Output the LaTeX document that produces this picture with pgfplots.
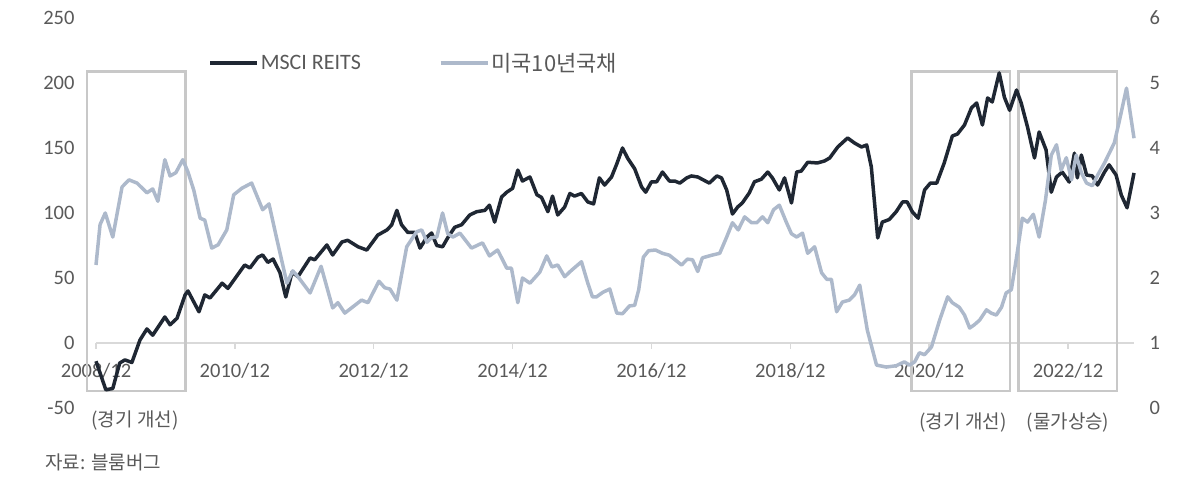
\documentclass[border=0pt]{standalone}
\usepackage{fontspec}
\setmainfont{Carlito}
\newfontfamily\kr{Noto Sans CJK KR}
\usepackage{pgfplots}
\pgfplotsset{compat=1.18}
\definecolor{reit}{HTML}{1F2733}
\definecolor{bond}{HTML}{ADB9CB}
\definecolor{boxc}{HTML}{C8C8C8}
\definecolor{axc}{HTML}{D9D9D9}
\definecolor{txt}{HTML}{595959}

\begin{document}
\begin{tikzpicture}[x=1bp,y=1bp]
\useasboundingbox (0,0) rectangle (1200,486);

% left axis: MSCI REITS
\begin{axis}[
  at={(96bp,78bp)}, anchor=south west, scale only axis,
  width=1038bp, height=390bp,
  xmin=0, xmax=179.4, ymin=-50, ymax=250,
  axis x line=bottom, axis y line=left,
  axis x line shift=-65bp,
  hide obscured x ticks=false,
  x axis line style={-, draw=axc, line width=1.5bp},
  y axis line style={draw=none},
  xtick={0,24,...,168},
  xticklabels={2008/12,2010/12,2012/12,2014/12,2016/12,2018/12,2020/12,2022/12},
  ytick={-50,0,...,250},
  tick align=outside, major tick length=6bp,
  xtick style={draw=axc, line width=1.5bp},
  ytick style={draw=none},
  tick label style={font=\fontsize{20.5bp}{24bp}\selectfont, text=txt},
  /pgf/number format/assume math mode=true,
  xticklabel style={anchor=north, yshift=-11bp},
  yticklabel style={anchor=east, xshift=-12bp},
  clip=false,
]
\draw[boxc, line width=2.5bp] (axis cs:-1.55,-37) rectangle (axis cs:15.5,209);
\draw[boxc, line width=2.5bp] (axis cs:140.9,-37) rectangle (axis cs:158.0,209);
\draw[boxc, line width=2.5bp] (axis cs:159.4,-37) rectangle (axis cs:176.5,209);

\addplot[reit, line width=3.5bp, line join=round] coordinates {
(0,-14) (1.7,-36) (2.9,-35) (4.1,-15.4) (5,-13) (6.2,-15) (7.6,2.3) (8.8,10.8) (9.8,6)
(11.9,20) (12.8,14) (14,19) (15.4,37) (15.9,40) (17.8,24) (18.8,37) (19.7,34.6)
(21.8,46) (22.8,42) (25.7,60) (26.6,57.7) (28,66) (28.8,67.7) (29.7,62) (30.6,64.6)
(31.8,54) (32.8,35.4) (33.9,54.6) (34.9,51) (37,65.4) (37.8,64) (39.9,75.4) (40.9,67.7)
(42.5,77.7) (43.5,79) (45.3,74) (46.8,71.5) (48.7,83) (50.3,87) (51.1,90.8) (52,102)
(52.8,91) (53.9,85) (55.1,85) (56,73) (57.2,81.5) (58,84.6) (58.9,75) (59.9,74)
(60.8,81) (62,89) (63.2,91) (64.6,98.5) (65.8,101) (67.2,102) (68,106) (68.9,93)
(70.1,112.3) (71,116) (72,119) (72.9,133) (73.7,124.6) (75,127.7) (76.2,114) (77,112)
(78.1,101) (78.9,113) (79.8,98.5) (81,104.6) (81.9,115) (82.7,113) (83.9,115) (85,108.5)
(86,107) (87,127) (87.9,121.5) (89.1,127.7) (90,137.7) (91,150) (91.9,142) (93.1,134)
(94.3,120) (95,116) (96,124) (96.9,124) (97.9,131.5) (99.1,124.6) (100,124.6) (100.9,123)
(102.1,127) (102.9,128.5) (104,127.7) (106,123) (107.3,128.5) (108.1,127) (109,117.7)
(110,99.2) (110.9,104.6) (111.7,107.7) (112.9,115.4) (113.8,124) (115,126) (116.1,131.5)
(116.9,127) (118.1,117.7) (119,127) (120.2,107.7) (121.1,131.5) (121.9,132.3) (123,139)
(124.7,138.5) (125.9,140) (126.8,142.3) (128.2,150.8) (129.9,157.7) (131.1,153.8)
(132.3,150.8) (133.2,152.3) (134,135.4) (135.1,80.8) (135.9,93) (137.1,95) (138.3,101)
(139.4,108.5) (140.2,108.5) (141.1,100.8) (142.1,96) (143.2,117.7) (144.2,123) (145.3,123)
(146.6,138.5) (148,159.2) (148.9,160.8) (150.1,167.7) (151.3,180.8) (152.2,184.6)
(153.2,167.7) (154.1,188.5) (154.9,185.4) (156.1,207.7) (157,189) (157.9,179) (159.1,194.6)
(159.9,184.6) (161,166) (162.2,142.3) (163,162.3) (164.2,148.5) (165.1,116) (166,127.7)
(167,131.5) (168.2,123.8) (169.1,146) (169.6,127) (170.3,144.6) (171.2,129.2) (172.2,128.5)
(173.1,121.5) (174.3,131.5) (175.1,137) (176.3,129.2) (177.2,113.8) (178.2,104) (179.4,130.8)
};
\end{axis}

% right axis: US 10y yield
\begin{axis}[
  at={(96bp,78bp)}, anchor=south west, scale only axis,
  width=1038bp, height=390bp,
  xmin=0, xmax=179.4, ymin=0, ymax=6,
  axis x line=none, axis y line*=right,
  y axis line style={draw=none},
  xtick=\empty, ytick={0,...,6},
  ytick style={draw=none},
  tick label style={font=\fontsize{20.5bp}{24bp}\selectfont, text=txt},
  /pgf/number format/assume math mode=true,
  yticklabel style={anchor=west, xshift=12bp},
  legend columns=2,
  legend style={draw=none, fill=none, at={(0.108,0.885)}, anchor=west,
    inner sep=0pt, font=\fontsize{22bp}{26bp}\selectfont, text=txt,
    /tikz/every even column/.append style={column sep=76bp}},
  legend image code/.code={\draw[#1] (0bp,0bp) -- (47bp,0bp);},
  clip=false,
]
\addlegendimage{reit, line width=3.5bp}
\addlegendentry{MSCI REITS}
\addplot[bond, line width=3.5bp, line join=round] coordinates {
(0,2.20) (0.7,2.82) (1.6,3.0) (2.9,2.63) (4.5,3.40) (5.7,3.51) (7.1,3.46) (8.8,3.31)
(9.8,3.37) (10.7,3.18) (11.9,3.82) (12.8,3.57) (13.8,3.62) (15,3.82) (15.9,3.63) (16.9,3.35)
(18,2.92) (18.8,2.89) (20,2.46) (21.1,2.51) (22.6,2.74) (23.8,3.28) (25.2,3.38) (26.9,3.46)
(28.8,3.05) (29.9,3.14) (31.3,2.58) (33,1.92) (34,2.11) (34.9,2.02) (37,1.77) (38.9,2.18)
(40.9,1.54) (41.8,1.62) (43,1.46) (45.9,1.66) (47,1.62) (48.9,1.95) (49.9,1.85) (50.8,1.83)
(52,1.66) (53.7,2.48) (55.4,2.71) (56.3,2.74) (57.2,2.55) (58,2.62) (58.9,2.63) (59.9,3.0)
(60.8,2.68) (61.7,2.63) (62.9,2.69) (64.9,2.46) (66.8,2.54) (68,2.34) (69.4,2.43) (70.1,2.31)
(71,2.15) (71.8,2.15) (72.9,1.62) (73.7,2.0) (75,1.92) (76.7,2.09) (77.9,2.34) (78.8,2.17)
(79.8,2.20) (81,2.02) (82.2,2.12) (83.9,2.25) (85,1.92) (85.8,1.71) (86.5,1.71) (87.6,1.78)
(88.8,1.83) (90,1.46) (91,1.45) (92.2,1.57) (93.1,1.58) (93.8,1.82) (94.6,2.32) (95.5,2.42)
(96.7,2.43) (97.9,2.38) (99.1,2.35) (101.2,2.2) (102.2,2.29) (103.1,2.28) (104,2.10)
(104.8,2.31) (106.4,2.35) (107.8,2.38) (109,2.63) (110,2.85) (111,2.74) (112.1,2.94)
(113.3,2.85) (114.2,2.85) (115.2,2.94) (116.1,2.85) (117.1,3.05) (118.1,3.12) (119.3,2.86)
(120.2,2.68) (121.1,2.63) (122.1,2.69) (123,2.38) (124.2,2.48) (125.4,2.08) (126.3,1.98)
(127.1,1.98) (128,1.48) (129,1.63) (130.2,1.66) (131.1,1.74) (132,1.89) (133.3,1.2)
(134.9,0.66) (136.6,0.63) (138.3,0.65) (139.7,0.71) (140.6,0.66) (141.5,0.71) (142.3,0.85)
(143.2,0.82) (144.4,0.94) (145.8,1.35) (147.2,1.71) (148,1.62) (149.2,1.55) (150.1,1.43)
(151,1.23) (151.8,1.28) (152.7,1.35) (153.9,1.51) (154.7,1.46) (155.6,1.43) (156.5,1.55)
(157.3,1.77) (158.2,1.82) (159.1,2.32) (160.1,2.92) (161,2.86) (162,2.98) (163,2.63)
(164.1,3.2) (165.1,3.89) (166,4.05) (166.8,3.66) (167.7,3.85) (168.6,3.51) (169.4,3.89)
(170.3,3.62) (171.2,3.46) (172.2,3.42) (173.1,3.58) (174.3,3.77) (176,4.08) (176.9,4.43)
(178.1,4.92) (179.4,4.15)
};
\addlegendentry{\kr\fontsize{22bp}{26bp}\selectfont 미국10년국채}
\end{axis}

\begin{scope}[every node/.style={text=txt, inner sep=0pt}]
\node[font=\kr\fontsize{19bp}{23bp}\selectfont] at (135,65) {(경기 개선)};
\node[font=\kr\fontsize{19bp}{23bp}\selectfont] at (963,63) {(경기 개선)};
\node[font=\kr\fontsize{19bp}{23bp}\selectfont] at (1068,63) {(물가상승)};
\node[font=\kr\fontsize{19bp}{23bp}\selectfont, anchor=west] at (45,24) {자료: 블룸버그};
\end{scope}
\end{tikzpicture}
\end{document}
